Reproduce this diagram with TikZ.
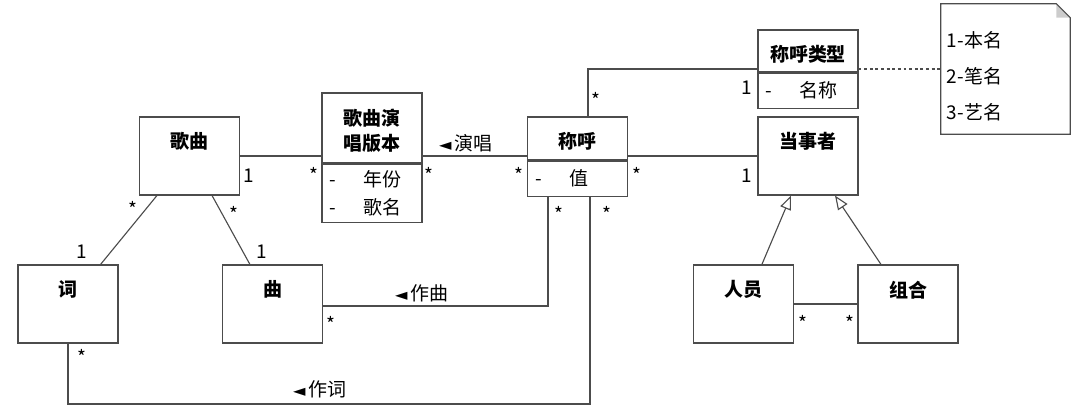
\documentclass[tikz,border=0pt]{standalone}
\usepackage{fontspec}
\setmainfont{Noto Sans CJK SC}
\newfontfamily\arrowfont{DejaVu Sans}
\usepackage{tikz}
\usetikzlibrary{arrows.meta,positioning}

\newcommand\attrline[1]{\makebox[0.85cm][l]{-}#1}
\newcommand\leftptr{{\arrowfont\fontsize{11.5}{11.5}\selectfont ◄}}

\begin{document}
\begin{tikzpicture}[
    x=0.025cm, y=-0.025cm,
    font=\fontsize{13.5}{19.8}\selectfont,
    linec/.style={draw=black!70, line width=0.8pt},
    ctitle/.style={anchor=north, yshift=-0.4cm, inner sep=0pt, align=center, font=\fontsize{13.5}{17.7}\selectfont\bfseries},
    cls/.style={linec, minimum width=2.5cm, minimum height=1.95cm, inner sep=0pt, label={[ctitle]north:{#1}}},
    clshead/.style={linec, minimum width=2.5cm, inner sep=0pt, label={[ctitle]north:{#1}}},
    attr/.style={linec, minimum width=2.5cm, text width=2.1cm, inner xsep=0.2cm, inner ysep=0pt, align=left},
    notebox/.style={minimum width=3.225cm, minimum height=3.25cm, text width=2.925cm, inner xsep=0.15cm, inner ysep=0pt, align=left, font=\fontsize{13.5}{25.5}\selectfont},
    assoc/.style={draw=black!70, line width=0.8pt},
    generalize/.style={assoc, -{Triangle[open, length=0.35cm, width=0.28cm]}},
    mult/.style={anchor=base, inner sep=0pt},
    rolename/.style={inner sep=0pt}
]
\useasboundingbox (0,0) rectangle (1080,418);

% classes
\node[cls=歌曲] (gequ) at (189.5,156) {};
\node[clshead={歌曲演\\唱版本}, minimum height=1.75cm] (banben) at (372,128) {};
\node[attr, minimum height=1.45cm, below=0pt of banben] (banbenattr) {\attrline{年份}\\\attrline{歌名}};
\node[clshead=称呼, minimum height=1.075cm] (chenghu) at (577.5,138.5) {};
\node[attr, minimum height=0.875cm, below=0pt of chenghu] (chenghuattr) {\attrline{值}};
\node[clshead=称呼类型, minimum height=1.05cm] (leixing) at (808,51) {};
\node[attr, minimum height=0.875cm, below=0pt of leixing] (leixingattr) {\attrline{名称}};
\node[cls=当事者] (dangshi) at (808,156) {};
\node[cls=词] (ci) at (68,304) {};
\node[cls=曲] (qu) at (272.5,304) {};
\node[cls=人员] (renyuan) at (743.5,304) {};
\node[cls=组合] (zuhe) at (908,304) {};

% note
\node[notebox] (beizhu) at (1005.5,69) {\rule{0pt}{22pt}1-本名\\2-笔名\\3-艺名};
\fill[black!20] ([xshift=-0.35cm]beizhu.north east) -- ([xshift=-0.35cm,yshift=-0.35cm]beizhu.north east) -- ([yshift=-0.35cm]beizhu.north east) -- cycle;
\draw[assoc] (beizhu.north west) -- ([xshift=-0.35cm]beizhu.north east) -- ([yshift=-0.35cm]beizhu.north east) -- (beizhu.south east) -- (beizhu.south west) -- cycle;

% associations
\coordinate (typebend) at (588,69);
\coordinate (qubend) at (548,306);
\coordinate (cibend) at (590,404);
\draw[assoc] (gequ.east) -- (gequ.east -| banben.west);
\draw[assoc] (gequ.east -| banben.east) -- (gequ.east -| chenghu.west);
\draw[assoc] (dangshi.west -| chenghu.east) -- (dangshi.west);
\draw[assoc] (chenghu.north -| typebend) -- (typebend) -- (typebend -| leixing.west);
\draw[assoc, dash pattern=on 2pt off 2pt] (typebend -| leixing.east) -- (typebend -| beizhu.west);
\draw[assoc] ([xshift=0.45cm]gequ.south west) -- ([xshift=-0.45cm]ci.north east);
\draw[assoc] ([xshift=-0.7cm]gequ.south east) -- ([xshift=0.7cm]qu.north west);
\draw[assoc] (qu.east |- qubend) -- (qubend) -- (qubend |- chenghuattr.south);
\draw[assoc] (ci.south) |- (cibend) -- (cibend |- chenghuattr.south);
\draw[assoc] (renyuan.east) -- (zuhe.west);
\draw[generalize] ([xshift=0.46cm]renyuan.north) -- ([xshift=-0.425cm]dangshi.south);
\draw[generalize] ([xshift=-0.675cm]zuhe.north) -- ([xshift=0.675cm]dangshi.south);

% role names
\node[rolename] (yanchang) at (466,143) {\leftptr\,演唱};
\node[rolename] (zuoqu) at (422,293) {\leftptr\,作曲};
\node[rolename] (zuoci) at (320,389) {\leftptr\,作词};

% multiplicities
\node[mult] (m1) at (249,183) {1};
\node[mult] (m2) at (314,183) {*};
\node[mult] (m3) at (429,183) {*};
\node[mult] (m4) at (519,183) {*};
\node[mult] (m5) at (637,183) {*};
\node[mult] (m6) at (747,183) {1};
\node[mult] (m7) at (596,108) {*};
\node[mult] (m8) at (747,95) {1};
\node[mult] (m9) at (133,217) {*};
\node[mult] (m10) at (82,259) {1};
\node[mult] (m11) at (234,222) {*};
\node[mult] (m12) at (262,259) {1};
\node[mult] (m13) at (331,332) {*};
\node[mult] (m14) at (559,222) {*};
\node[mult] (m15) at (607,222) {*};
\node[mult] (m16) at (82,365) {*};
\node[mult] (m17) at (803,331) {*};
\node[mult] (m18) at (850,331) {*};
\end{tikzpicture}
\end{document}
